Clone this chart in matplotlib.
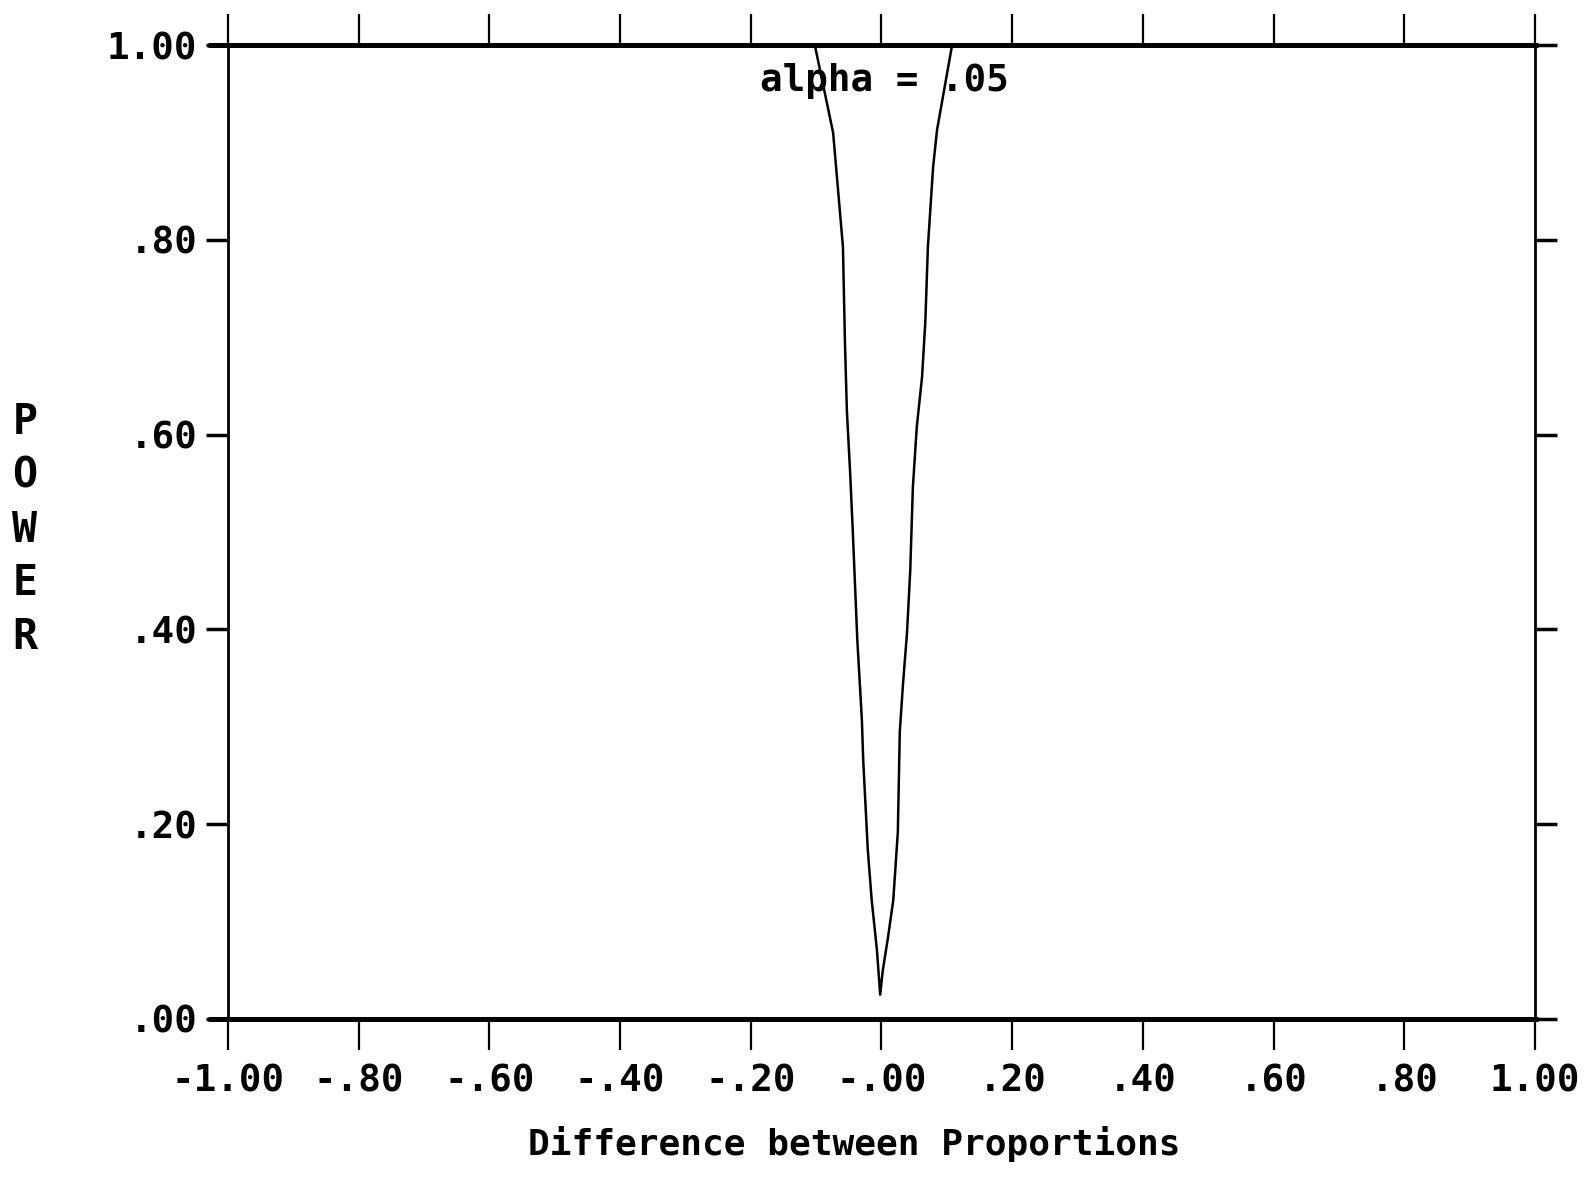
import matplotlib
matplotlib.use('Agg')
import matplotlib.pyplot as plt

# power curve (difference between proportions vs power)
diff = [-1.00, -0.102, -0.074, -0.059, -0.056, -0.053, -0.048, -0.044, -0.037,
        -0.030, -0.028, -0.021, -0.015, -0.007, -0.002, 0.002, 0.010, 0.018,
        0.025, 0.028, 0.033, 0.039, 0.044, 0.048, 0.054, 0.062, 0.067, 0.071,
        0.079, 0.085, 0.108, 1.00]
power = [1.00, 1.00, 0.91, 0.793, 0.697, 0.625, 0.561, 0.502, 0.389,
         0.307, 0.266, 0.174, 0.122, 0.071, 0.025, 0.050, 0.084, 0.122,
         0.192, 0.295, 0.345, 0.396, 0.461, 0.546, 0.608, 0.659, 0.715, 0.793,
         0.875, 0.913, 1.00, 1.00]

xticks = [-1.0, -0.8, -0.6, -0.4, -0.2, 0.0, 0.2, 0.4, 0.6, 0.8, 1.0]
xlabels = ['-1.00', '-.80', '-.60', '-.40', '-.20', '-.00', '.20', '.40', '.60', '.80', '1.00']
yticks = [0.0, 0.2, 0.4, 0.6, 0.8, 1.0]
ylabels = ['.00', '.20', '.40', '.60', '.80', '1.00']

font = 'DejaVu Sans Mono'

fig = plt.figure(figsize=(15.89, 11.9), dpi=100)
ax = fig.add_axes([0.1435, 0.1437, 0.8225, 0.8183])

ax.plot(diff, power, color='black', lw=1.8)

# thick horizontal lines at 0 and 1, running a little past the left edge
ax.plot([-1.03, 1.005], [0, 0], color='black', lw=3.6, clip_on=False, solid_capstyle='butt')
ax.plot([-1.03, 1.005], [1, 1], color='black', lw=3.6, clip_on=False, solid_capstyle='butt')

ax.set_xlim(-1, 1)
ax.set_ylim(0, 1)
ax.spines['top'].set_visible(False)
ax.spines['bottom'].set_visible(False)
ax.spines['left'].set_linewidth(2)
ax.spines['right'].set_linewidth(2)

ax.set_xticks(xticks)
ax.set_xticklabels(xlabels, fontfamily=font, fontweight='bold', fontsize=27)
ax.set_yticks(yticks)
ax.set_yticklabels(ylabels, fontfamily=font, fontweight='bold', fontsize=27)
ax.tick_params(axis='x', which='both', direction='out', length=22, width=1.6,
               top=True, bottom=True, labeltop=False, pad=10)
ax.tick_params(axis='y', which='both', direction='out', length=16, width=2.5,
               left=True, right=True, labelright=False, pad=6)

ax.set_xlabel('Difference between Proportions', fontfamily=font, fontweight='bold',
              fontsize=26)
ax.xaxis.set_label_coords(0.479, -0.110)
fig.text(0.0157, 0.555, 'P\nO\nW\nE\nR', fontfamily=font, fontweight='bold',
         fontsize=30, ha='center', va='center', linespacing=1.36)

ax.text(0.004, 0.963, 'alpha = .05', fontfamily=font, fontweight='bold', fontsize=27,
        ha='center', va='center')

fig.savefig('out.png', dpi=100, facecolor='white')
